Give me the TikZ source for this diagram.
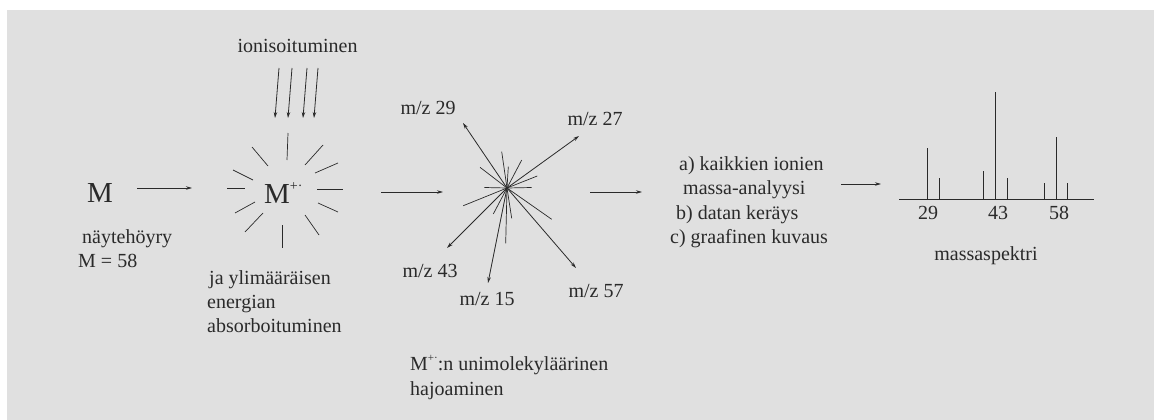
\documentclass[tikz,border=0pt]{standalone}
\usepackage{fontspec}
\setmainfont{Liberation Serif}
\usetikzlibrary{arrows.meta}
\definecolor{bg}{HTML}{E0E0E0}
\definecolor{ink}{HTML}{2A2A2A}
\begin{document}
\begin{tikzpicture}[x=1pt,y=-1pt,
  txt/.style={font=\fontsize{20}{24}\selectfont, inner sep=0pt, text=ink},
  big/.style={font=\fontsize{29}{32}\selectfont, inner sep=0pt, text=ink},
  ln/.style={draw=ink, line width=0.8pt},
  arr/.style={ln, -{Stealth[length=6pt,width=3.5pt]}},
  ray/.style={ln, line width=0.7pt}]
\useasboundingbox (0,0) rectangle (1154,420);
\fill[white] (0,0) rectangle (1154,420);
\fill[bg] (7,10) rectangle (1154,420);

% left M
\node[big, anchor=base west] (M) at (87,202) {M};
\node[txt, anchor=base west] (nayte) at (82,243) {näytehöyry};
\node[txt, anchor=base west] (M58) at (78,267) {M = 58};
\coordinate (a1s) at (137,188);
\coordinate (a1e) at (192,188);
\draw[arr] (a1s) -- (a1e);

% ionisation
\node[txt, anchor=base] (ion) at (297.5,53) {ionisoituminen};
\foreach \xa/\xb [count=\i] in {279/275, 292/288, 307/303, 318/314}{
  \coordinate (i\i s) at (\xa,68);
  \coordinate (i\i e) at (\xb,118);
  \draw[arr] (i\i s) -- (i\i e);
}

% M+.
\node[big, anchor=base west] (Mp) at (264,203) {M\raisebox{0.42em}{\fontsize{14}{14}\selectfont +·}};
\foreach \ax/\ay/\bx/\by in {288/133/287/160, 282/225/282/248, 227/188/245/188, 317/189/343/189,
   252/147/268/166, 323/145/305/165, 233/170/253/180, 338/163/315/173,
   235/213/255/202, 318/203/338/212, 245/232/263/213, 305/215/319/235}{
  \draw[ray] (\ax,\ay) -- (\bx,\by);
}
\node[txt, anchor=base west] (ja) at (209,284) {ja ylimääräisen};
\node[txt, anchor=base west] (energ) at (207,308) {energian};
\node[txt, anchor=base west] (absorb) at (207,332) {absorboituminen};

\coordinate (a2s) at (381,192);
\coordinate (a2e) at (443,192);
\draw[arr] (a2s) -- (a2e);

% fragmentation star
\coordinate (star) at (507,188);
\foreach \px/\py in {501.7/151.7, 508.3/166.7, 521.7/160, 480/167.3, 537.3/176,
   484.3/187.5, 531.7/187.5, 463.3/205.7, 493.3/214, 505.7/243.3, 511.7/218.3, 551.7/219.3}{
  \draw[ray] (star) -- (\px,\py);
}
\coordinate (t29) at (463,123);
\coordinate (t27) at (579,136);
\coordinate (t43) at (447,248);
\coordinate (t15) at (488,283);
\coordinate (t57) at (576,268);
\foreach \t in {t29,t27,t43,t15,t57}{ \draw[arr] (star) -- (\t); }
\node[txt] (l29) at (428,108) {m/z 29};
\node[txt] (l27) at (595,119) {m/z 27};
\node[txt] (l43) at (430,271) {m/z 43};
\node[txt] (l15) at (487,299) {m/z 15};
\node[txt] (l57) at (596,291) {m/z 57};

\node[txt, anchor=base west] (uni) at (410,370) {M\raisebox{0.45em}{\fontsize{11}{11}\selectfont +·}:n unimolekyläärinen};
\node[txt, anchor=base west] (hajo) at (410,395) {hajoaminen};

\coordinate (a3s) at (590,192);
\coordinate (a3e) at (642,192);
\draw[arr] (a3s) -- (a3e);

% analysis text
\node[txt, anchor=base west] (ta) at (679,170) {a) kaikkien ionien};
\node[txt, anchor=base west] (tm) at (683,194.5) {massa-analyysi};
\node[txt, anchor=base west] (tb) at (676,219) {b) datan keräys};
\node[txt, anchor=base west] (tc) at (670,243.5) {c) graafinen kuvaus};

\coordinate (a4s) at (841,184);
\coordinate (a4e) at (881,184);
\draw[arr] (a4s) -- (a4e);

% spectrum
\coordinate (b0) at (899,199);
\coordinate (b1) at (1094,199);
\draw[ln] (b0) -- (b1);
\foreach \px/\py in {927/148, 939/178, 983/171, 995/92, 1007/178, 1044/183, 1056/137, 1067/183}{
  \draw[ln] (\px,199) -- (\px,\py);
}
\node[txt] (n29) at (928,213) {29};
\node[txt] (n43) at (998,213) {43};
\node[txt] (n58) at (1059,213) {58};
\node[txt] (spek) at (986,256) {massaspektri};
\end{tikzpicture}
\end{document}
